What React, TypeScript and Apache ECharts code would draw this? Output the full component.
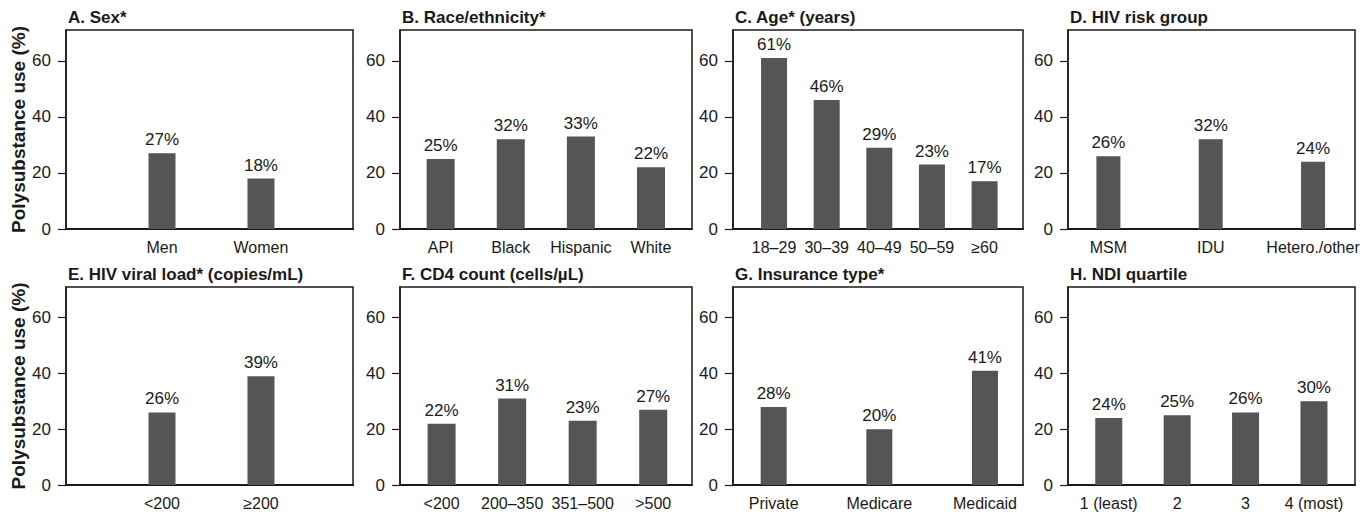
import React, { useEffect, useRef } from "react";
import * as echarts from "echarts";

// ---- data ----
const titles = [
  "A. Sex*",
  "B. Race/ethnicity*",
  "C. Age* (years)",
  "D. HIV risk group",
  "E. HIV viral load* (copies/mL)",
  "F. CD4 count (cells/\u00b5L)",
  "G. Insurance type*",
  "H. NDI quartile",
];

const sexCats = ["Men", "Women"];
const sexVals = [27, 18];
const raceCats = ["API", "Black", "Hispanic", "White"];
const raceVals = [25, 32, 33, 22];
const ageCats = ["18\u201329", "30\u201339", "40\u201349", "50\u201359", "\u226560"];
const ageVals = [61, 46, 29, 23, 17];
const riskCats = ["MSM", "IDU", "Hetero./other"];
const riskVals = [26, 32, 24];
const vlCats = ["<200", "\u2265200"];
const vlVals = [26, 39];
const cd4Cats = ["<200", "200\u2013350", "351\u2013500", ">500"];
const cd4Vals = [22, 31, 23, 27];
const insCats = ["Private", "Medicare", "Medicaid"];
const insVals = [28, 20, 41];
const ndiCats = ["1 (least)", "2", "3", "4 (most)"];
const ndiVals = [24, 25, 26, 30];

const yTicks = [0, 20, 40, 60];
const yAxisName = "Polysubstance use (%)";

const panelCats = [sexCats, raceCats, ageCats, riskCats, vlCats, cd4Cats, insCats, ndiCats];
const panelVals = [sexVals, raceVals, ageVals, riskVals, vlVals, cd4Vals, insVals, ndiVals];

// ---- layout ----
const W = 1370;
const H = 514;
const colLeft = [66, 400, 733, 1068];
const colRight = [353, 692, 1023, 1355];
const rowTop = [30, 287];
const rowBottom = [229, 485];
const xExtent: [number, number][] = [
  [0.03, 2.93],
  [0.42, 4.585],
  [0.22, 5.73],
  [0.605, 3.41],
  [0.03, 2.93],
  [0.41, 4.55],
  [0.615, 3.36],
  [0.404, 4.6],
];
const barWidths = [27, 28, 26, 24, 27, 28, 26, 27];

const FONT = "'Liberation Sans', Arial, Helvetica, sans-serif";
const TEXT = "#1a1a1a";
const BAR = "#555555";
const LINE = "#1a1a1a";

export default function App() {
  const ref = useRef<HTMLDivElement>(null);
  useEffect(() => {
    if (!ref.current) return;
    const chart = echarts.init(ref.current, null, { renderer: "svg" });
    const grid: any[] = [];
    const xAxis: any[] = [];
    const yAxis: any[] = [];
    const series: any[] = [];
    const title: any[] = [];
    for (let i = 0; i < 8; i++) {
      const r = Math.floor(i / 4);
      const c = i % 4;
      const cats = panelCats[i];
      const vals = panelVals[i];
      grid.push({
        left: colLeft[c],
        right: W - colRight[c],
        top: rowTop[r],
        bottom: H - rowBottom[r],
        show: true,
        borderColor: LINE,
        borderWidth: 1.5,
        backgroundColor: "#fff",
      });
      title.push({
        text: titles[i],
        left: colLeft[c] + 2,
        top: rowTop[r] - 21,
        padding: 0,
        textStyle: { fontFamily: FONT, fontSize: 17, fontWeight: "bold", color: TEXT },
      });
      xAxis.push({
        type: "value",
        gridIndex: i,
        min: xExtent[i][0],
        max: xExtent[i][1],
        axisLine: { show: true, lineStyle: { color: LINE, width: 2 } },
        axisTick: { show: false },
        splitLine: { show: false },
        axisLabel: {
          customValues: cats.map((_, k) => k + 1),
          formatter: (v: number) => cats[Math.round(v) - 1] ?? "",
          fontFamily: FONT,
          fontSize: 16,
          color: TEXT,
          margin: 10,
        },
      });
      yAxis.push({
        type: "value",
        gridIndex: i,
        min: 0,
        max: 71,
        name: c === 0 ? yAxisName : "",
        nameLocation: "middle",
        nameGap: 37,
        nameTextStyle: { fontFamily: FONT, fontSize: 19, fontWeight: "bold", color: TEXT },
        axisLine: { show: true, lineStyle: { color: LINE, width: 1.5 } },
        axisTick: { show: true, length: 8, customValues: yTicks, lineStyle: { color: LINE, width: 1.2 } },
        splitLine: { show: false },
        axisLabel: {
          customValues: yTicks,
          fontFamily: FONT,
          fontSize: 17,
          color: TEXT,
          margin: 15,
        },
      });
      series.push({
        type: "bar",
        xAxisIndex: i,
        yAxisIndex: i,
        barWidth: barWidths[i],
        data: vals.map((v, k) => [k + 1, v]),
        itemStyle: { color: BAR },
        label: {
          show: true,
          position: "top",
          distance: 5,
          formatter: (p: any) => `${p.value[1]}%`,
          fontFamily: FONT,
          fontSize: 17,
          color: TEXT,
        },
      });
    }
    chart.setOption({
      animation: false,
      backgroundColor: "#fff",
      textStyle: { fontFamily: FONT },
      title,
      grid,
      xAxis,
      yAxis,
      series,
    });
    return () => chart.dispose();
  }, []);
  return (
    <div
      ref={ref}
      style={{ position: "fixed", left: 0, top: 0, width: W, height: H, background: "#fff" }}
    />
  );
}
